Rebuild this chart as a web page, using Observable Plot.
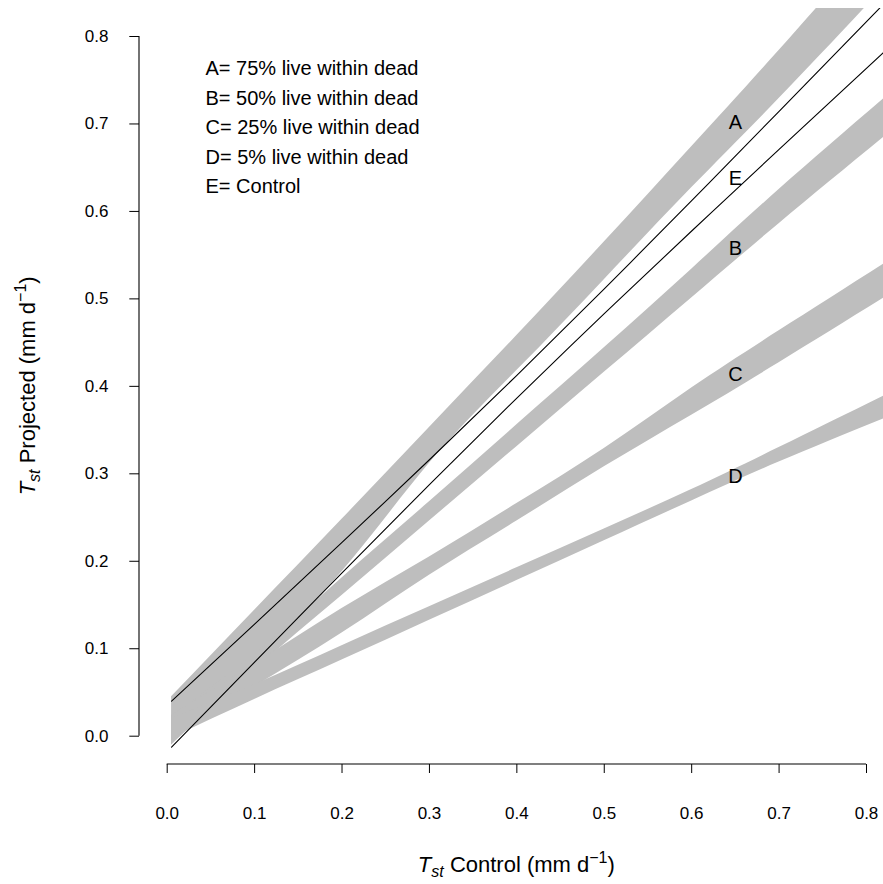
<!DOCTYPE html>
<html>
<head>
<meta charset="utf-8">
<script src="https://cdn.jsdelivr.net/npm/d3@7"></script>
<script src="https://cdn.jsdelivr.net/npm/@observablehq/plot@0.6"></script>
<style>
  body { margin: 0; background: #fff; }
  #chart svg { display: block; }
</style>
</head>
<body>
<div id="chart"></div>
<script>
// Control transpiration (x) at which each band edge is given
const xs = [0.005, 0.1, 0.2, 0.3, 0.4, 0.5, 0.6, 0.7, 0.82];

// Confidence bands of projected transpiration, lower / upper edge
const aLo = [-0.010, 0.086, 0.188, 0.312, 0.418, 0.522, 0.627, 0.729, 0.856];
const aHi = [0.045, 0.144, 0.248, 0.353, 0.458, 0.565, 0.674, 0.784, 0.920];
const bLo = [-0.010, 0.076, 0.161, 0.246, 0.331, 0.416, 0.501, 0.586, 0.685];
const bHi = [0.022, 0.094, 0.181, 0.268, 0.356, 0.444, 0.534, 0.625, 0.729];
const cLo = [-0.004, 0.0564, 0.118, 0.184, 0.246, 0.308, 0.367, 0.427, 0.501];
const cHi = [0.024, 0.0825, 0.146, 0.205, 0.266, 0.329, 0.398, 0.4635, 0.540];
const dLo = [-0.002, 0.042, 0.087, 0.1325, 0.178, 0.2235, 0.269, 0.3135, 0.363];
const dHi = [0.020, 0.059, 0.1035, 0.148, 0.1925, 0.237, 0.282, 0.330, 0.389];

// Control (E): drawn as two black lines
const eLo = [-0.0126, 0.0848, 0.1868, 0.2877, 0.3866, 0.4831, 0.5776, 0.671, 0.7823];
const eHi = [0.040, 0.1282, 0.2216, 0.3161, 0.4126, 0.5115, 0.6124, 0.7144, 0.8375];

// Letters placed on the bands
const labelNames = ["A", "E", "B", "C", "D"];
const labelX = [0.65, 0.65, 0.65, 0.65, 0.65];
const labelY = [0.702, 0.638, 0.558, 0.413, 0.297];

const legendLines = [
  "A= 75% live within dead",
  "B= 50% live within dead",
  "C= 25% live within dead",
  "D= 5% live within dead",
  "E= Control"
];

const ticks = [0, 0.1, 0.2, 0.3, 0.4, 0.5, 0.6, 0.7, 0.8];

const bandSets = {A: [aLo, aHi], B: [bLo, bHi], C: [cLo, cHi], D: [dLo, dHi]};
const bands = [];
for (const [group, [lo, hi]] of Object.entries(bandSets)) {
  xs.forEach((x, i) => bands.push({group, x, lo: lo[i], hi: hi[i]}));
}
const control = xs.map((x, i) => ({x, lo: eLo[i], hi: eHi[i]}));
const labels = labelNames.map((name, i) => ({name, x: labelX[i], y: labelY[i]}));

const font = "Liberation Sans, Arial, Helvetica, sans-serif";

const chart = Plot.plot({
  width: 883,
  height: 884,
  marginLeft: 139,
  marginRight: 0,
  marginTop: 8,
  marginBottom: 120,
  style: {fontFamily: font, background: "white", color: "black"},
  x: {domain: [0, 0.8], range: [166.7, 866]},
  y: {domain: [0, 0.8], range: [735.7, 36]},
  marks: [
    Plot.areaY(bands, {x: "x", y1: "lo", y2: "hi", z: "group", fill: "#bebebe", curve: "natural", clip: true}),
    Plot.line(control, {x: "x", y: "lo", curve: "natural", stroke: "black", strokeWidth: 1.1, clip: true}),
    Plot.line(control, {x: "x", y: "hi", curve: "natural", stroke: "black", strokeWidth: 1.1, clip: true}),
    Plot.text(labels, {x: "x", y: "y", text: "name", fontSize: 20, fill: "black"}),
    Plot.axisX({ticks, tickFormat: d3.format(".1f"), tickSize: 9, tickPadding: 33, fontSize: 17, label: null}),
    Plot.axisY({ticks, tickFormat: d3.format(".1f"), tickSize: 9.7, tickPadding: 21.3, fontSize: 17, label: null}),
    Plot.text([legendLines.join("\n")], {
      frameAnchor: "top-left", dx: 66, dy: 46, lineAnchor: "top",
      lineHeight: 1.47, textAnchor: "start", fontSize: 20, fill: "black"
    })
  ]
});

document.getElementById("chart").appendChild(chart);

// Axis lines spanning first to last tick, and the axis titles
const sx = chart.scale("x"), sy = chart.scale("y");
const svg = d3.select(chart);
const axisG = svg.append("g").attr("stroke", "black").attr("stroke-width", 1.1);
axisG.append("line")
  .attr("x1", 139).attr("x2", 139)
  .attr("y1", sy.apply(ticks[0])).attr("y2", sy.apply(ticks[ticks.length - 1]));
axisG.append("line")
  .attr("y1", 884 - 120).attr("y2", 884 - 120)
  .attr("x1", sx.apply(ticks[0])).attr("x2", sx.apply(ticks[ticks.length - 1]));

function axisTitle(sel, word) {
  sel.attr("font-family", font).attr("font-size", 22).attr("fill", "black").attr("text-anchor", "middle");
  sel.append("tspan").attr("font-style", "italic").text("T");
  sel.append("tspan").attr("font-style", "italic").attr("font-size", 16).attr("dy", 5).text("st");
  sel.append("tspan").attr("dy", -5).text(" " + word + " (mm d");
  sel.append("tspan").attr("font-size", 16).attr("dy", -9).text("\u22121");
  sel.append("tspan").attr("dy", 9).text(")");
}

const midX = (sx.apply(0) + sx.apply(0.8)) / 2;
const midY = (sy.apply(0) + sy.apply(0.8)) / 2;
axisTitle(svg.append("text").attr("x", midX).attr("y", 872), "Control");
axisTitle(svg.append("text").attr("transform", `translate(35,${midY}) rotate(-90)`), "Projected");
</script>
</body>
</html>
